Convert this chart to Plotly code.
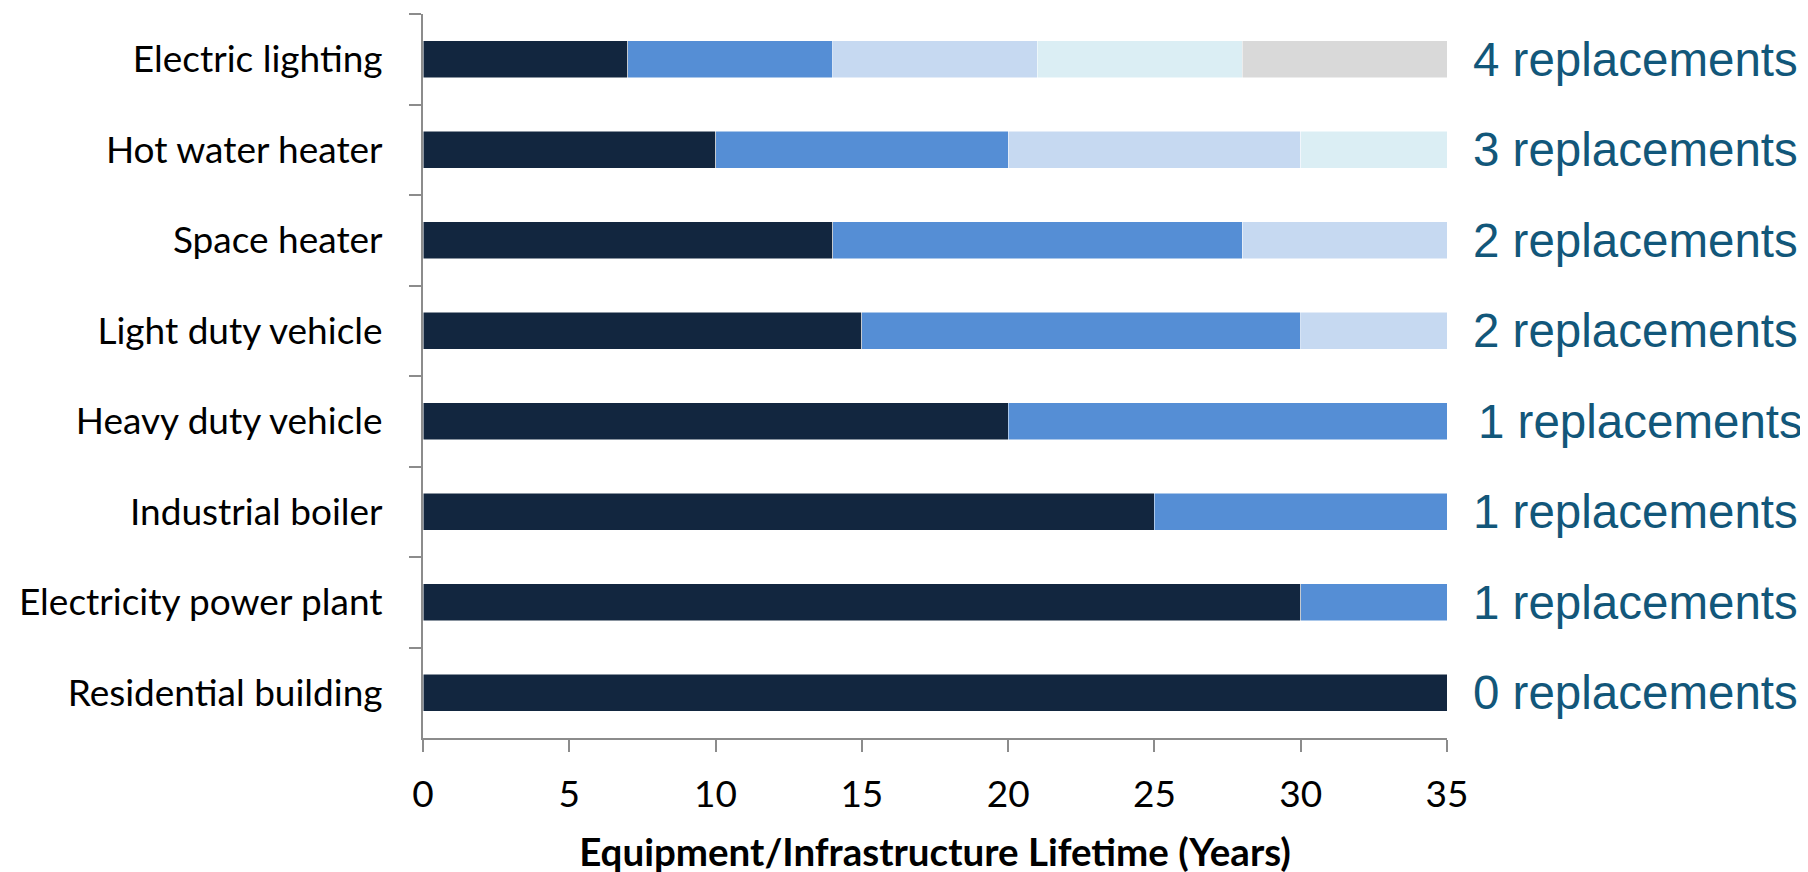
import plotly.graph_objects as go

COLOR_GEN = ["#12263F", "#558ED5", "#C6D9F1", "#DBEEF4", "#D9D9D9"]
COLOR_AXIS = "#8C8C8C"
COLOR_NOTE = "#12577A"
FONT_FAMILY = "Lato"

categories = ["Electric lighting", "Hot water heater", "Space heater", "Light duty vehicle",
              "Heavy duty vehicle", "Industrial boiler", "Electricity power plant", "Residential building"]

# years covered by each generation of equipment, inside a 35 year window
gen1 = [7, 10, 14, 15, 20, 25, 30, 35]
gen2 = [7, 10, 14, 15, 15, 10, 5, None]
gen3 = [7, 10, 7, 5, None, None, None, None]
gen4 = [7, 5, None, None, None, None, None, None]
gen5 = [7, None, None, None, None, None, None, None]

replacements = [4, 3, 2, 2, 1, 1, 1, 0]
x_ticks = [0, 5, 10, 15, 20, 25, 30, 35]

fig = go.Figure()

for i, gen in enumerate([gen1, gen2, gen3, gen4, gen5]):
    fig.add_trace(go.Bar(x=gen, y=categories, orientation="h",
                         marker=dict(color=COLOR_GEN[i], line=dict(color="white", width=0.5)),
                         showlegend=False, hoverinfo="x+y"))

# the page body adds 8px, so margins are trimmed by that much
note_shift = [24, 24, 24, 24, 29, 24, 24, 24]
for cat, n, shift in zip(categories, replacements, note_shift):
    fig.add_annotation(text="{} replacements".format(n), x=35, y=cat, xref="x", yref="y",
                       xanchor="left", yanchor="middle", xshift=shift, showarrow=False,
                       font=dict(family="Liberation Sans, Arial", size=47.5, color=COLOR_NOTE))

fig.update_layout(width=1808, height=872,
                  barmode="stack", bargap=0.59,
                  plot_bgcolor="white", paper_bgcolor="white",
                  margin=dict(l=415, r=369, t=6, b=142),
                  font=dict(family=FONT_FAMILY, size=37, color="black"),
                  xaxis=dict(range=[0, 35], tickvals=x_ticks, showgrid=False, zeroline=False,
                             showline=True, linecolor=COLOR_AXIS, linewidth=2,
                             ticks="outside", ticklen=12, tickcolor=COLOR_AXIS, tickwidth=2,
                             ticklabelstandoff=11,
                             title=dict(text="<b>Equipment/Infrastructure Lifetime (Years)</b>",
                                        standoff=25, font=dict(size=38.5))),
                  yaxis=dict(autorange="reversed", showgrid=False, zeroline=False,
                             showline=True, linecolor=COLOR_AXIS, linewidth=2,
                             ticks="outside", ticklen=12, tickcolor=COLOR_AXIS, tickwidth=2,
                             tickson="boundaries", ticklabelstandoff=31))

fig.write_html("out.html")
